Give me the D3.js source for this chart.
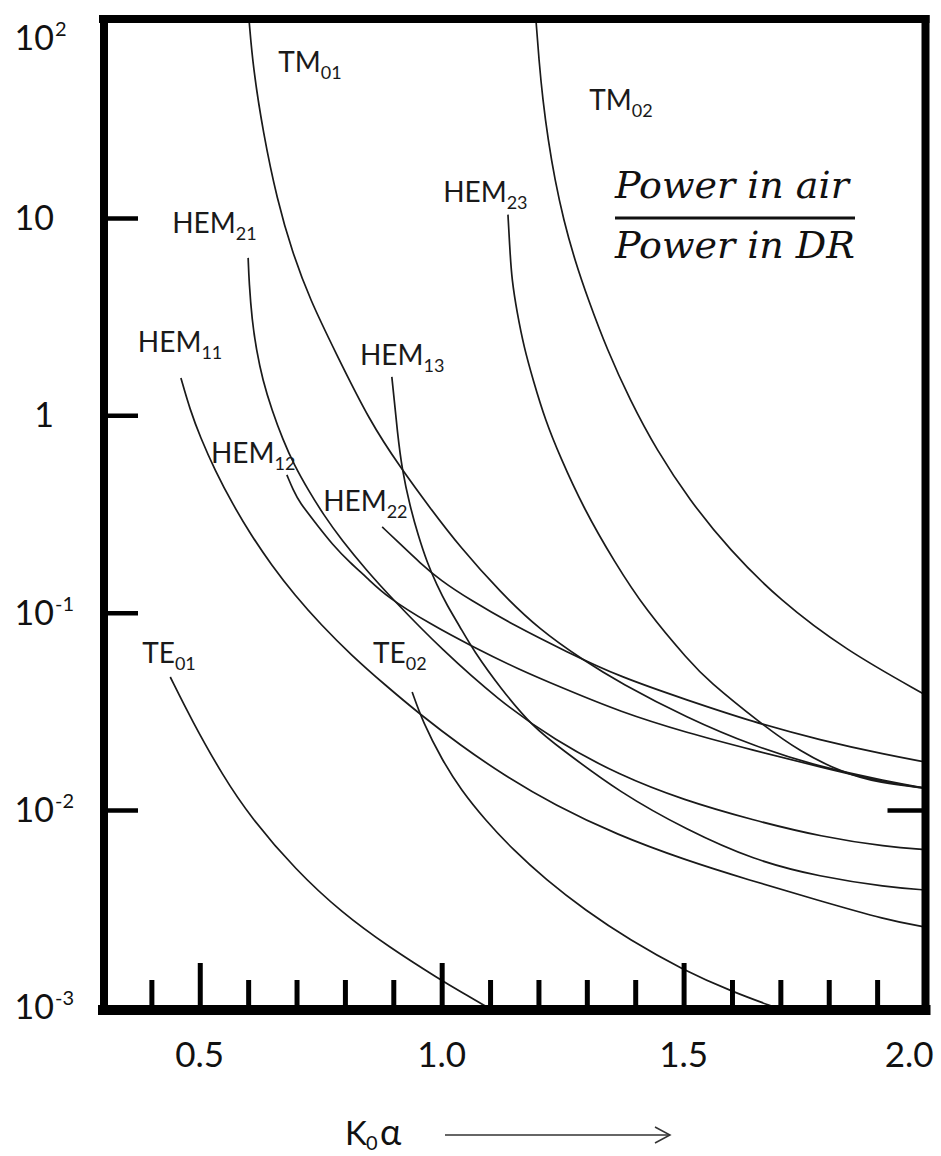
<!DOCTYPE html>
<html>
<head>
<meta charset="utf-8">
<script src="https://cdn.jsdelivr.net/npm/d3@7"></script>
<style>
  html, body { margin: 0; padding: 0; background: #fff; }
  svg { display: block; }
</style>
</head>
<body>
<svg id="chart" width="941" height="1156"></svg>
<script>
// Power ratio (air / dielectric resonator) versus k0·a for each mode: [k0a, ratio]
const tm01 = [[0.602,100],[0.610,58.3],[0.631,27.0],[0.660,12.35],[0.691,6.73],[0.728,3.85],[0.780,2.10],[0.852,0.926],[0.914,0.548],[0.976,0.339],[1.038,0.215],[1.121,0.127],[1.203,0.0817],[1.292,0.0576],[1.369,0.0440],[1.507,0.0293],[1.644,0.0211],[1.782,0.0165],[1.921,0.0140],[2.0,0.0129]];
const tm02 = [[1.195,100],[1.201,63.3],[1.209,39.7],[1.220,24.9],[1.234,15.6],[1.252,9.78],[1.275,6.13],[1.303,3.85],[1.342,2.15],[1.389,1.197],[1.444,0.668],[1.512,0.3725],[1.595,0.208],[1.698,0.116],[1.834,0.0647],[2.0,0.0383]];
const hem23 = [[1.137,10.4],[1.141,6.89],[1.145,4.86],[1.156,3.30],[1.170,2.22],[1.189,1.51],[1.214,0.948],[1.245,0.615],[1.292,0.343],[1.358,0.179],[1.422,0.103],[1.513,0.0563],[1.549,0.0456],[1.658,0.0276],[1.741,0.0197],[1.830,0.0154],[1.906,0.0137],[2.0,0.0129]];
const hem21 = [[0.600,6.28],[0.602,4.69],[0.608,3.04],[0.617,2.15],[0.630,1.51],[0.649,1.065],[0.672,0.750],[0.695,0.561],[0.724,0.419],[0.756,0.313],[0.793,0.2336],[0.844,0.1646],[0.900,0.116],[1.001,0.0647],[1.117,0.0361],[1.233,0.0226],[1.367,0.0150],[1.501,0.0112],[1.642,0.0089],[1.786,0.0073],[1.921,0.0065],[2.0,0.0063]];
const hem11 = [[0.461,1.547],[0.480,1.065],[0.501,0.777],[0.531,0.529],[0.569,0.351],[0.606,0.2476],[0.648,0.1745],[0.696,0.1229],[0.751,0.0866],[0.813,0.0610],[0.883,0.0430],[0.957,0.0303],[1.038,0.02135],[1.128,0.01504],[1.233,0.0106],[1.363,0.00747],[1.503,0.00558],[1.635,0.00442],[1.776,0.00350],[1.920,0.00277],[2.0,0.00255]];
const hem12 = [[0.680,0.499],[0.693,0.419],[0.707,0.360],[0.738,0.288],[0.775,0.220],[0.811,0.179],[0.846,0.150],[0.887,0.120],[0.976,0.0876],[1.065,0.0670],[1.162,0.0512],[1.245,0.0420],[1.369,0.0314],[1.507,0.0246],[1.644,0.0201],[1.782,0.0165],[1.921,0.0137],[2.0,0.0129]];
const hem13 = [[0.897,1.565],[0.902,1.197],[0.908,0.843],[0.918,0.529],[0.935,0.343],[0.951,0.248],[0.970,0.179],[0.990,0.138],[1.011,0.109],[1.038,0.0846],[1.065,0.0647],[1.121,0.0415],[1.189,0.0263],[1.245,0.0206],[1.369,0.0122],[1.507,0.00792],[1.644,0.00558],[1.782,0.00458],[1.921,0.00407],[2.0,0.00393]];
const hem22 = [[0.877,0.272],[0.914,0.223],[0.955,0.179],[0.997,0.146],[1.059,0.116],[1.148,0.0866],[1.259,0.0632],[1.369,0.0472],[1.507,0.0361],[1.644,0.0279],[1.782,0.0226],[1.921,0.0190],[2.0,0.0175]];
const te01 = [[0.439,0.0472],[0.483,0.0286],[0.549,0.0147],[0.605,0.00921],[0.698,0.00497],[0.794,0.00301],[0.891,0.00202],[0.997,0.00138],[1.039,0.00120],[1.095,0.00100]];
const te02 = [[0.939,0.0396],[0.961,0.0279],[1.001,0.0179],[1.040,0.01263],[1.090,0.0089],[1.148,0.00627],[1.216,0.00442],[1.296,0.00311],[1.389,0.00219],[1.499,0.001545],[1.602,0.001196],[1.689,0.00100]];

// Mode labels and where they sit (k0a, ratio of the label baseline)
const modeSeries = [tm01, tm02, hem23, hem21, hem11, hem13, hem12, hem22, te01, te02];
const modeNames  = ["TM", "TM", "HEM", "HEM", "HEM", "HEM", "HEM", "HEM", "TE", "TE"];
const modeSubs   = ["01", "02", "23", "21", "11", "13", "12", "22", "01", "02"];
const labelK0a   = [0.662, 1.305, 1.003, 0.443, 0.372, 0.831, 0.523, 0.755, 0.381, 0.858];
const labelRatio = [55.0, 35.3, 12.07, 8.40, 2.10, 1.80, 0.574, 0.328, 0.0556, 0.0556];

// Axis ticks and labels
const xMajorTicks = [0.5, 1.0, 1.5];
const xMinorTicks = [0.4, 0.6, 0.7, 0.8, 0.9, 1.1, 1.2, 1.3, 1.4, 1.6, 1.7, 1.8, 1.9];
const xLabelValues = [0.5, 1.0, 1.5, 2.0];
const xLabelTexts  = ["0.5", "1.0", "1.5", "2.0"];
const yTickValues  = [1e-3, 1e-2, 1e-1, 1, 10, 100];
const yLabelBase   = ["10", "10", "10", "1", "10", "10"];
const yLabelExp    = ["-3", "-2", "-1", "", "", "2"];
const yInnerTicks  = [1e-2, 1e-1, 1, 10];
const yRightTicks  = [1e-2];

const svg = d3.select("#chart");
const plot = { left: 103, right: 925.5, top: 20.7, bottom: 1007.3 };
const x = d3.scaleLinear().domain([0.3, 2.0]).range([plot.left, plot.right]);
const y = d3.scaleLog().domain([1e-3, 1e2]).range([plot.bottom, plot.top]);

const FONT = "Lato, 'Open Sans', 'DejaVu Sans', sans-serif";
const ink = "#111";

svg.append("rect").attr("width", 941).attr("height", 1156).attr("fill", "#fff");

// clip curves to the plotting frame
svg.append("defs").append("clipPath").attr("id", "plotClip")
  .append("rect")
  .attr("x", x(0.3)).attr("y", y(100) - 2)
  .attr("width", x(2.0) - x(0.3)).attr("height", y(1e-3) - y(100) + 4);

// smooth B-spline through the read-off points
const line = d3.line()
  .x(d => x(d[0]))
  .y(d => y(d[1]))
  .curve(d3.curveBasis);

svg.append("g").attr("clip-path", "url(#plotClip)")
  .selectAll("path.mode")
  .data(modeSeries)
  .join("path")
  .attr("class", "mode")
  .attr("d", line)
  .attr("fill", "none")
  .attr("stroke", "#1a1a1a")
  .attr("stroke-width", 1.7);

// mode labels with subscripts
const labels = svg.append("g").attr("font-family", FONT).attr("fill", "#1a1a1a");
modeNames.forEach((nm, i) => {
  const t = labels.append("text")
    .attr("x", x(labelK0a[i]))
    .attr("y", y(labelRatio[i]))
    .attr("font-size", 28);
  t.append("tspan").text(nm);
  t.append("tspan").attr("font-size", 18).attr("dy", 7).text(modeSubs[i]);
});

// plot frame
const frame = svg.append("g").attr("stroke", "#000").attr("stroke-linecap", "square");
frame.append("line")
  .attr("x1", x(0.3)).attr("x2", x(2.0))
  .attr("y1", y(100) - 1.7).attr("y2", y(100) - 1.7)
  .attr("stroke-width", 8);
frame.append("line")
  .attr("x1", x(0.3)).attr("x2", x(2.0))
  .attr("y1", y(1e-3) + 2.7).attr("y2", y(1e-3) + 2.7)
  .attr("stroke-width", 10);
frame.append("line")
  .attr("x1", x(0.3) + 1).attr("x2", x(0.3) + 1)
  .attr("y1", y(100) - 1.7).attr("y2", y(1e-3) + 2.7)
  .attr("stroke-width", 8);
frame.append("line")
  .attr("x1", x(2.0)).attr("x2", x(2.0))
  .attr("y1", y(100) - 1.7).attr("y2", y(1e-3) + 2.7)
  .attr("stroke-width", 8);

// inward ticks along the bottom edge
const axisTop = y(1e-3) - 2.3;
function styleTicks(g, w) {
  g.select(".domain").remove();
  g.selectAll(".tick line").attr("stroke", "#000").attr("stroke-width", w);
  g.selectAll(".tick text").remove();
}
svg.append("g").attr("transform", `translate(0,${axisTop})`)
  .call(d3.axisBottom(x).tickValues(xMinorTicks).tickSize(-25).tickFormat(""))
  .call(g => styleTicks(g, 5));
svg.append("g").attr("transform", `translate(0,${axisTop})`)
  .call(d3.axisBottom(x).tickValues(xMajorTicks).tickSize(-42).tickFormat(""))
  .call(g => styleTicks(g, 5));

// inward ticks on the left and right edges
svg.append("g").attr("transform", `translate(${x(0.3) + 1},0)`)
  .call(d3.axisLeft(y).tickValues(yInnerTicks).tickSize(-34).tickFormat(""))
  .call(g => styleTicks(g, 4.5));
svg.append("g").attr("transform", `translate(${x(2.0)},0)`)
  .call(d3.axisRight(y).tickValues(yRightTicks).tickSize(-38).tickFormat(""))
  .call(g => styleTicks(g, 4.5));

// y tick labels: powers of ten
const yl = svg.append("g").attr("font-family", FONT).attr("fill", ink);
yTickValues.forEach((v, i) => {
  const base = Math.max(y(v) + 12, y(100) + 29);
  yl.append("text")
    .attr("x", 54).attr("y", base)
    .attr("text-anchor", "end")
    .attr("font-size", 34)
    .text(yLabelBase[i]);
  if (yLabelExp[i]) {
    yl.append("text")
      .attr("x", 55).attr("y", base - 14)
      .attr("font-size", 20)
      .text(yLabelExp[i]);
  }
});

// x tick labels
const xl = svg.append("g").attr("font-family", FONT).attr("fill", ink).attr("font-size", 35);
xLabelValues.forEach((v, i) => {
  const last = i === xLabelValues.length - 1;
  xl.append("text")
    .attr("x", last ? x(v) + 8 : x(v))
    .attr("y", 1067)
    .attr("text-anchor", last ? "end" : "middle")
    .text(xLabelTexts[i]);
});

// x axis title (K, subscript 0, alpha) with arrow
const title = svg.append("g").attr("font-family", FONT).attr("fill", ink);
title.append("text").attr("x", 345).attr("y", 1145).attr("font-size", 33).text("K");
title.append("text").attr("x", 366).attr("y", 1150).attr("font-size", 20).text("0");
title.append("text").attr("x", 380).attr("y", 1145).attr("font-size", 36).text("α");

const arrow = svg.append("g").attr("stroke", "#333").attr("stroke-width", 1.5).attr("fill", "none");
arrow.append("line").attr("x1", 445).attr("x2", 670).attr("y1", 1135).attr("y2", 1135);
arrow.append("polyline").attr("points", "655,1127 670,1135 655,1143");

// ratio annotation
const frac = svg.append("g").attr("font-family", "'DejaVu Serif', 'Liberation Serif', serif")
  .attr("font-style", "italic").attr("font-size", 38).attr("fill", ink);
frac.append("text").attr("x", 615).attr("y", 198).text("Power in air");
frac.append("line").attr("x1", 615).attr("x2", 855).attr("y1", 218).attr("y2", 218)
  .attr("stroke", ink).attr("stroke-width", 3);
frac.append("text").attr("x", 615).attr("y", 258).text("Power in DR");
</script>
</body>
</html>
